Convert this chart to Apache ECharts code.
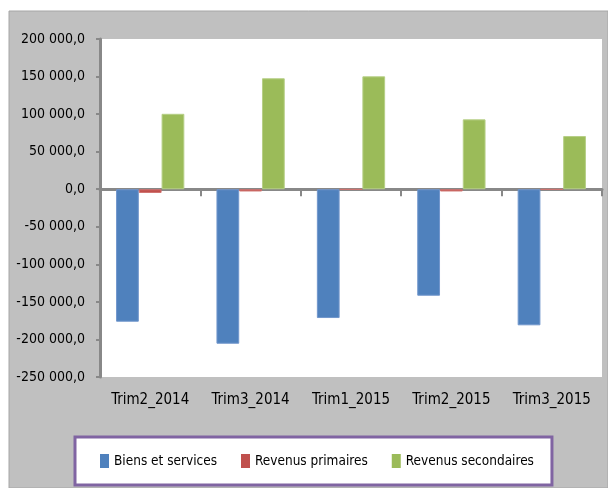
<!DOCTYPE html>
<html>
<head>
<meta charset="utf-8">
<script src="https://cdn.jsdelivr.net/npm/echarts@6/dist/echarts.min.js"></script>
<style>
html, body { margin: 0; padding: 0; background: #fff; }
#main { width: 608px; height: 488px; }
</style>
</head>
<body>
<div id="main"></div>
<script>
var categories = ['Trim2_2014', 'Trim3_2014', 'Trim1_2015', 'Trim2_2015', 'Trim3_2015'];
var biensServices = [-176400, -205700, -171500, -141800, -181200];
var revenusPrimaires = [-5000, -3000, -400, -3000, -400];
var revenusSecondaires = [100400, 147700, 150300, 93000, 70800];

var FONT = '"DejaVu Sans Condensed", "Liberation Sans Narrow", sans-serif';

function fmt(v) {
    var s = Math.abs(v).toString().replace(/\B(?=(\d{3})+(?!\d))/g, ' ');
    return (v < 0 ? '-' : '') + s + ',0';
}

var myChart = echarts.init(document.getElementById('main'));

var option = {
    animation: false,
    backgroundColor: '#fff',
    graphic: [{
        type: 'rect',
        z: -10,
        shape: { x: 9, y: 11, width: 599, height: 477 },
        style: { fill: '#c0c0c0', stroke: '#a6a6a6', lineWidth: 1 }
    }],
    grid: {
        left: 100, top: 39, right: 6, bottom: 111,
        show: true, backgroundColor: '#fff', borderWidth: 0
    },
    legend: {
        left: 75, top: 437, width: 460,
        padding: [17, 18, 17, 25],
        backgroundColor: '#fff',
        borderColor: '#8064a2',
        borderWidth: 3,
        icon: 'rect',
        itemWidth: 9, itemHeight: 14,
        itemGap: 24,
        itemStyle: { borderWidth: 0 },
        textStyle: { fontFamily: FONT, fontSize: 13.5, color: '#000' },
        data: ['Biens et services', 'Revenus primaires', 'Revenus secondaires']
    },
    xAxis: [{
        type: 'category',
        data: categories,
        axisLine: { onZero: true, lineStyle: { color: '#888', width: 3 } },
        axisTick: { show: true, interval: 0, length: 7, lineStyle: { color: '#888', width: 2 } },
        axisLabel: { show: false }
    }, {
        type: 'category',
        data: categories,
        position: 'bottom',
        axisLine: { show: false },
        axisTick: { show: false },
        axisLabel: { margin: 16, fontFamily: FONT, fontSize: 15, color: '#000', interval: 0 }
    }],
    yAxis: {
        type: 'value',
        min: -250000, max: 200000, interval: 50000,
        axisLine: { show: true, lineStyle: { color: '#888', width: 3 } },
        axisTick: { show: true, length: 4, lineStyle: { color: '#888', width: 2 } },
        splitLine: { show: false },
        axisLabel: { margin: 15, fontFamily: FONT, fontSize: 14, color: '#000', formatter: fmt }
    },
    series: [{
        name: 'Biens et services', type: 'bar', data: biensServices,
        barGap: '0%', barCategoryGap: '32%',
        itemStyle: { color: '#4f81bd', borderColor: '#7196cc', borderWidth: 1 }
    }, {
        name: 'Revenus primaires', type: 'bar', data: revenusPrimaires,
        barGap: '0%', barCategoryGap: '32%',
        itemStyle: { color: '#c0504d', borderColor: '#cf7370', borderWidth: 1 }
    }, {
        name: 'Revenus secondaires', type: 'bar', data: revenusSecondaires,
        barGap: '0%', barCategoryGap: '32%',
        itemStyle: { color: '#9bbb59', borderColor: '#b6cf86', borderWidth: 1 }
    }]
};

myChart.setOption(option);
</script>
</body>
</html>
